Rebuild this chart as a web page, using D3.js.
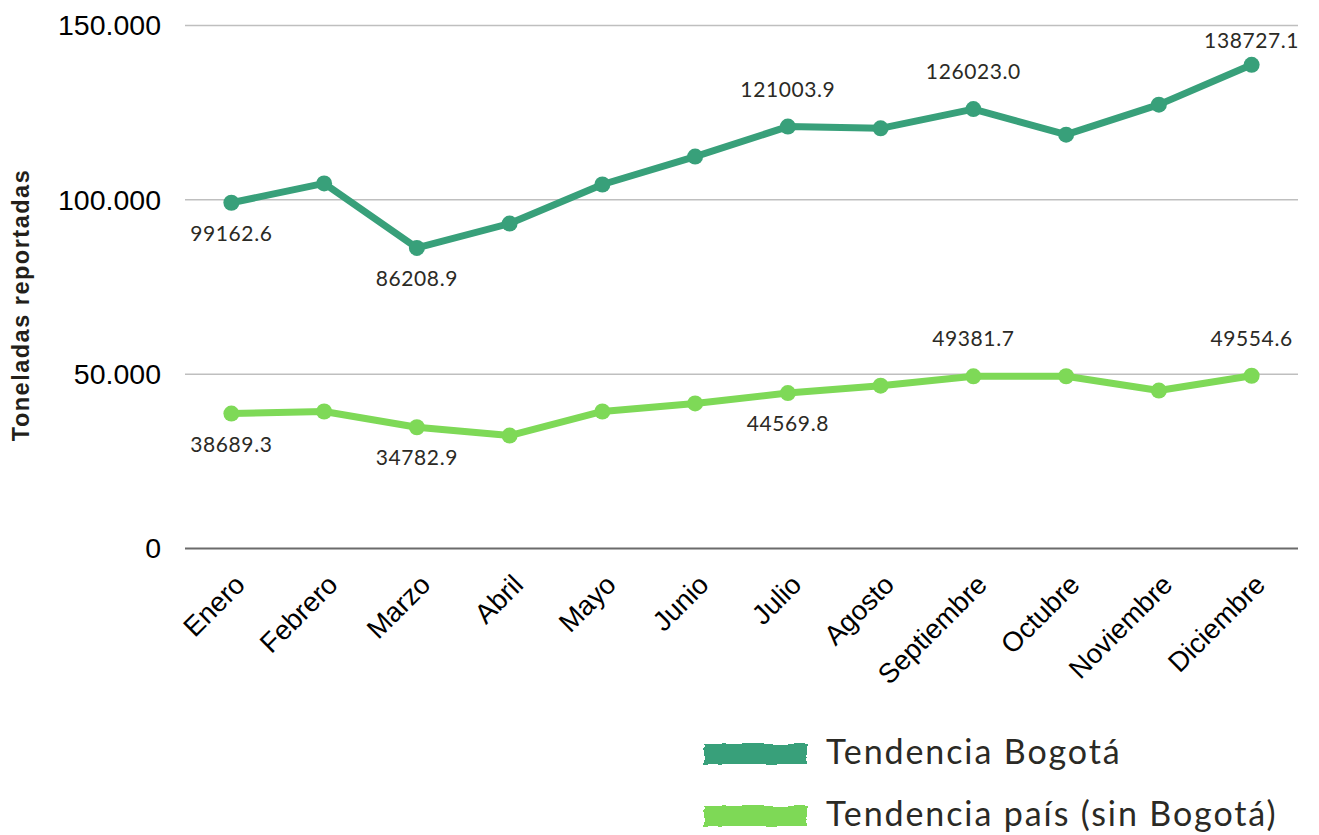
<!DOCTYPE html>
<html>
<head>
<meta charset="utf-8">
<script src="https://cdn.jsdelivr.net/npm/d3@7"></script>
<style>
  body { margin: 0; background: #fff; }
  svg { display: block; }
</style>
</head>
<body>
<svg id="chart" width="1319" height="835"></svg>
<script>
const meses = ["Enero", "Febrero", "Marzo", "Abril", "Mayo", "Junio", "Julio", "Agosto",
    "Septiembre", "Octubre", "Noviembre", "Diciembre"];
const bogota = [99162.6, 104700, 86208.9, 93200, 104400, 112400, 121003.9, 120500,
    126023.0, 118700, 127300, 138727.1];
const pais = [38689.3, 39300, 34782.9, 32400, 39300, 41600, 44569.8, 46700,
    49381.7, 49400, 45300, 49554.6];
// which points get a value label, and on which side
const etiquetasBogota = [[0, "below"], [2, "below"], [6, "above"], [8, "above"], [11, "above"]];
const etiquetasPais = [[0, "below"], [2, "below"], [6, "below"], [8, "above"], [11, "above"]];
const yTicks = [0, 50000, 100000, 150000];
const leyenda = ["Tendencia Bogotá", "Tendencia país (sin Bogotá)"];

const colores = ["#38a07a", "#7ed957"];

var svg = d3.select("#chart");

// rough brush edge for the legend swatches
var filtro = svg.append("defs").append("filter")
    .attr("id", "brocha")
    .attr("x", "-5%").attr("y", "-30%")
    .attr("width", "110%").attr("height", "160%");
filtro.append("feTurbulence")
    .attr("type", "fractalNoise")
    .attr("baseFrequency", "0.05 0.3")
    .attr("numOctaves", 2)
    .attr("seed", 3)
    .attr("result", "ruido");
filtro.append("feDisplacementMap")
    .attr("in", "SourceGraphic")
    .attr("in2", "ruido")
    .attr("scale", 4)
    .attr("xChannelSelector", "R")
    .attr("yChannelSelector", "G");

var x = d3.scaleBand().domain(meses).range([185, 1298]);
var y = d3.scaleLinear().domain([0, 150000]).range([548.5, 25.5]);

// grid lines
svg.append("g")
    .selectAll("line")
    .data(yTicks.filter(d => d > 0))
    .enter()
    .append("line")
    .attr("x1", 185).attr("x2", 1298)
    .attr("y1", d => y(d)).attr("y2", d => y(d))
    .style("stroke", "#bfbfbf")
    .style("stroke-width", 1.5)

// baseline
svg.append("line")
    .attr("x1", 185).attr("x2", 1298)
    .attr("y1", y(0)).attr("y2", y(0))
    .style("stroke", "#6b6b6b")
    .style("stroke-width", 2)

// y tick labels
svg.append("g")
    .selectAll("text")
    .data(yTicks)
    .enter()
    .append("text")
    .attr("x", 161)
    .attr("y", d => y(d))
    .attr("dy", "0.35em")
    .attr("text-anchor", "end")
    .style("font-family", "Liberation Sans, Arial, sans-serif")
    .style("font-size", "28.5px")
    .style("fill", "#000")
    .text(d => d === 0 ? "0" : d3.format(",")(d).replace(/,/g, "."))

// y axis title
svg.append("text")
    .attr("transform", "translate(29,305) rotate(-90)")
    .attr("text-anchor", "middle")
    .style("font-family", "Liberation Sans, Arial, sans-serif")
    .style("font-weight", "bold")
    .style("font-size", "23.5px")
    .style("letter-spacing", "1.5px")
    .style("fill", "#231f1a")
    .text("Toneladas reportadas")

// x tick labels
svg.append("g")
    .selectAll("text")
    .data(meses)
    .enter()
    .append("text")
    .attr("transform", d => "translate(" + (x(d) + x.bandwidth() / 2 + 4) + ",575) rotate(-45)")
    .attr("text-anchor", "end")
    .attr("dy", "16px")
    .style("font-family", "Liberation Sans, Arial, sans-serif")
    .style("font-size", "27.5px")
    .style("fill", "#000")
    .text(d => d)

var cx = (d, i) => x(meses[i]) + x.bandwidth() / 2;
var linea = d3.line().x(cx).y(d => y(d));

function drawSerie(valores, color, etiquetas) {
    svg.append("path")
        .datum(valores)
        .attr("fill", "none")
        .attr("d", linea)
        .style("stroke", color)
        .style("stroke-width", 7)
        .style("stroke-linejoin", "round")

    svg.append("g")
        .selectAll("circle")
        .data(valores)
        .enter()
        .append("circle")
        .attr("cx", cx)
        .attr("cy", d => y(d))
        .attr("r", 8)
        .style("fill", color)

    svg.append("g")
        .selectAll("text")
        .data(etiquetas)
        .enter()
        .append("text")
        .attr("x", d => cx(null, d[0]))
        .attr("y", function (d) {
            let py = y(valores[d[0]]);
            if (d[1] === "below") return py + 38;
            return Math.max(py - 30, 48);
        })
        .attr("text-anchor", "middle")
        .style("font-family", "Lato, 'Open Sans', sans-serif")
        .style("font-size", "21px")
        .style("letter-spacing", "0.6px")
        .style("fill", "#2b2a25")
        .text(d => valores[d[0]].toFixed(1))
}

drawSerie(bogota, colores[0], etiquetasBogota);
drawSerie(pais, colores[1], etiquetasPais);

// legend
var leg = svg.append("g")
    .selectAll("g")
    .data(leyenda)
    .enter()
    .append("g")
    .attr("transform", (d, i) => "translate(0," + (i * 62) + ")")

leg.append("rect")
    .attr("x", 704).attr("y", 744)
    .attr("width", 103).attr("height", 20)
    .attr("filter", "url(#brocha)")
    .style("fill", (d, i) => colores[i])

leg.append("text")
    .attr("x", 826)
    .attr("y", 764)
    .style("font-family", "Lato, 'Open Sans', sans-serif")
    .style("font-size", "34px")
    .style("letter-spacing", "1.9px")
    .style("fill", "#2b2a25")
    .text(d => d)
</script>
</body>
</html>
